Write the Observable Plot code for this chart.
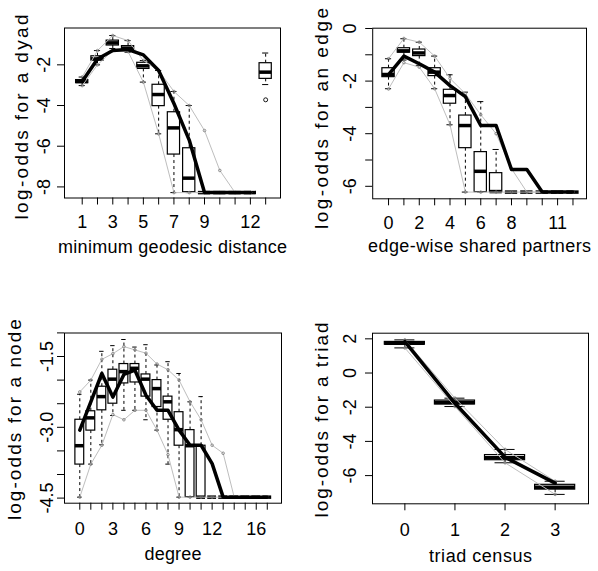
<!DOCTYPE html>
<html><head><meta charset="utf-8">
<script src="https://cdn.jsdelivr.net/npm/d3@7"></script>
<script src="https://cdn.jsdelivr.net/npm/@observablehq/plot@0.6"></script>
<style>
html,body{margin:0;padding:0;background:#fff;}
#wrap{position:relative;width:598px;height:571px;overflow:hidden;background:#fff;}
#wrap > div{position:absolute;}
</style></head><body><div id="wrap"></div>
<script>
// ---------- Panel 1: minimum geodesic distance ----------
const geoCats = [1,2,3,4,5,6,7,8,9,10,11,12,13];
const geoMin = [-3.02,-2.0,-1.2,-1.38,-2.85,-5.39,-8.28,-8.28,-8.28,-8.28,-8.28,-8.28,-2.97];
const geoQ1  = [-2.9,-1.79,-1.05,-1.3,-2.2,-4.03,-6.41,-8.26,-8.28,-8.28,-8.28,-8.28,-2.69];
const geoMed = [-2.82,-1.71,-0.92,-1.18,-2.05,-3.46,-5.1,-7.57,-8.28,-8.28,-8.28,-8.28,-2.36];
const geoQ3  = [-2.75,-1.58,-0.81,-1.08,-1.9,-2.98,-4.33,-6.1,-8.28,-8.28,-8.28,-8.28,-1.92];
const geoMax = [-2.6,-1.3,-0.56,-0.81,-1.79,-2.28,-3.31,-4.0,-8.28,-8.28,-8.28,-8.28,-1.42];
const geoOutCats = [13];
const geoOutVals = [-3.72];
const geoLineCats = [1,2,3,4,5,6,7,8,9,10,11,12];
const geoObs = [-2.82,-1.71,-1.3,-1.25,-1.51,-2.28,-3.9,-5.7,-8.28,-8.28,-8.28,-8.28];
const geoHi  = [-2.6,-1.3,-0.56,-0.81,-1.79,-2.28,-3.31,-4.0,-5.23,-7.19,-8.28,-8.28];
const geoLo  = [-3.02,-2.0,-1.3,-1.35,-2.85,-5.39,-8.28,-8.28,-8.28,-8.28,-8.28,-8.28];
const geoXLabelCats = [1,3,5,7,9,12];
const geoYTicks = [-2,-4,-6,-8];
const geoYLabelVals = [-2,-4,-6,-8];
const geoYLabels = ["-2","-4","-6","-8"];

// ---------- Panel 2: edge-wise shared partners ----------
const espCats = [0,1,2,3,4,5,6,7,8,9,10,11,12];
const espMin = [-2.29,-1.2,-1.4,-2.29,-3.66,-6.22,-6.22,-6.22,-6.22,-6.22,-6.22,-6.22,-6.22];
const espQ1  = [-1.85,-0.92,-1.05,-1.81,-2.86,-4.55,-6.22,-6.22,-6.22,-6.22,-6.22,-6.22,-6.22];
const espMed = [-1.75,-0.85,-0.93,-1.66,-2.55,-3.69,-5.43,-6.2,-6.22,-6.22,-6.22,-6.22,-6.22];
const espQ3  = [-1.51,-0.75,-0.8,-1.51,-2.33,-3.31,-4.7,-5.5,-6.22,-6.22,-6.22,-6.22,-6.22];
const espMax = [-1.15,-0.39,-0.52,-1.05,-1.76,-2.42,-2.78,-4.6,-6.22,-6.22,-6.22,-6.22,-6.22];
const espObs = [-1.75,-1.05,-1.34,-1.66,-2.17,-2.59,-3.69,-3.69,-5.36,-5.36,-6.22,-6.22,-6.22];
const espHi  = [-1.15,-0.38,-0.52,-1.05,-1.9,-2.48,-3.28,-4.0,-5.33,-6.22,-6.22,-6.22,-6.22];
const espLo  = [-2.3,-1.3,-1.47,-2.29,-3.66,-6.22,-6.22,-6.22,-6.22,-6.22,-6.22,-6.22,-6.22];
const espXLabelCats = [0,2,4,6,8,11];
const espYTicks = [0,-1,-2,-3,-4,-5,-6];
const espYLabelVals = [0,-2,-4,-6];
const espYLabels = ["0","-2","-4","-6"];

// ---------- Panel 3: degree ----------
const degCats = [0,1,2,3,4,5,6,7,8,9,10,11,12,13,14,15,16,17];
const degMin = [-4.48,-3.78,-3.37,-2.75,-2.64,-2.64,-2.84,-3.06,-3.78,-4.48,-4.48,-4.48,-4.48,-4.48,-4.48,-4.48,-4.48,-4.48];
const degQ1  = [-3.79,-3.07,-2.64,-2.5,-2.07,-2.05,-2.35,-2.57,-2.84,-3.39,-4.48,-4.48,-4.48,-4.48,-4.48,-4.48,-4.48,-4.48];
const degMed = [-3.39,-2.8,-2.35,-1.98,-1.82,-1.75,-1.98,-2.18,-2.46,-3.05,-3.39,-4.48,-4.48,-4.48,-4.48,-4.48,-4.48,-4.48];
const degQ3  = [-2.84,-2.66,-2.14,-1.78,-1.66,-1.66,-1.88,-2.0,-2.35,-2.68,-3.06,-3.39,-4.48,-4.48,-4.48,-4.48,-4.48,-4.48];
const degMax = [-2.3,-2.0,-1.39,-1.27,-1.14,-1.3,-1.25,-1.68,-1.61,-1.86,-2.46,-2.35,-4.48,-4.48,-4.48,-4.48,-4.48,-4.48];
const degObs = [-3.06,-2.46,-1.86,-2.36,-1.88,-1.79,-2.32,-2.64,-2.64,-3.06,-3.38,-3.38,-3.77,-4.48,-4.48,-4.48,-4.48,-4.48];
const degHi  = [-2.25,-2.0,-1.56,-1.44,-1.29,-1.36,-1.43,-1.66,-1.78,-2.0,-2.46,-2.84,-3.38,-3.55,-4.48,-4.48,-4.48,-4.48];
const degLo  = [-4.48,-3.78,-3.38,-2.73,-2.84,-2.64,-2.64,-3.06,-3.58,-4.48,-4.48,-4.48,-4.48,-4.48,-4.48,-4.48,-4.48,-4.48];
const degXLabelCats = [0,3,6,9,12,16];
const degYTicks = [-1,-1.5,-2,-2.5,-3,-3.5,-4,-4.5];
const degYLabelVals = [-1.5,-3,-4.5];
const degYLabels = ["-1.5","-3.0","-4.5"];

// ---------- Panel 4: triad census ----------
const triCats = [0,1,2,3];
const triMin = [1.47,-1.96,-5.25,-7.1];
const triQ1  = [1.66,-1.84,-5.1,-6.82];
const triMed = [1.74,-1.72,-4.95,-6.68];
const triQ3  = [1.82,-1.61,-4.8,-6.54];
const triMax = [1.94,-1.47,-4.47,-6.33];
const triObs = [1.84,-1.77,-4.92,-6.44];
const triHi  = [1.94,-1.47,-4.47,-6.33];
const triLo  = [1.47,-1.96,-5.25,-7.1];
const triXLabelCats = [0,1,2,3];
const triYTicks = [2,0,-2,-4,-6];
const triYLabelVals = [2,0,-2,-4,-6];
const triYLabels = ["2","0","-2","-4","-6"];

const FONT = "'Liberation Sans', Arial, Helvetica, sans-serif";

function panel(cfg) {
  const boxes = cfg.cats.map((c, i) => ({c, lo: cfg.min[i], q1: cfg.q1[i], med: cfg.med[i], q3: cfg.q3[i], hi: cfg.max[i]}));
  const obs = cfg.lineCats.map((c, i) => ({c, v: cfg.obs[i]}));
  const up = cfg.lineCats.map((c, i) => ({c, v: cfg.hiLine[i]}));
  const low = cfg.lineCats.map((c, i) => ({c, v: cfg.loLine[i]}));
  const outs = (cfg.outCats || []).map((c, i) => ({c, v: cfg.outVals[i]}));
  const hw = 0.4, sw = 0.2;
  const yLab = new Map(cfg.yLabelVals.map((t, i) => [t, cfg.yLabels[i]]));
  const xLab = new Set(cfg.xLabelCats);
  const svg = Plot.plot({
    width: 299, height: 286,
    marginLeft: cfg.m[0], marginRight: cfg.m[1], marginTop: cfg.m[2], marginBottom: cfg.m[3],
    x: {type: "linear", domain: cfg.xDomain},
    y: {type: "linear", domain: cfg.yDomain},
    style: {fontFamily: FONT, fontSize: "18px", color: "black", background: "white"},
    marks: [
      Plot.ruleX(boxes, {x: "c", y1: "q3", y2: "hi", stroke: "black", strokeWidth: 1, strokeDasharray: "3,3"}),
      Plot.ruleX(boxes, {x: "c", y1: "q1", y2: "lo", stroke: "black", strokeWidth: 1, strokeDasharray: "3,3"}),
      Plot.ruleY(boxes, {y: "hi", x1: d => d.c - sw, x2: d => d.c + sw, stroke: "black", strokeWidth: 1}),
      Plot.ruleY(boxes, {y: "lo", x1: d => d.c - sw, x2: d => d.c + sw, stroke: "black", strokeWidth: 1}),
      Plot.rect(boxes, {x1: d => d.c - hw, x2: d => d.c + hw, y1: "q1", y2: "q3", fill: "white", stroke: "black", strokeWidth: 1.2}),
      Plot.ruleY(boxes, {y: "med", x1: d => d.c - hw, x2: d => d.c + hw, stroke: "black", strokeWidth: 3.5}),
      Plot.dot(outs, {x: "c", y: "v", r: 2, stroke: "black", strokeWidth: 0.9}),
      Plot.line(up, {x: "c", y: "v", stroke: "#bebebe", strokeWidth: 1}),
      Plot.line(low, {x: "c", y: "v", stroke: "#bebebe", strokeWidth: 1}),
      Plot.dot(up, {x: "c", y: "v", r: 1.3, stroke: "#777", strokeWidth: 0.8}),
      Plot.dot(low, {x: "c", y: "v", r: 1.3, stroke: "#777", strokeWidth: 0.8}),
      Plot.line(obs, {x: "c", y: "v", stroke: "black", strokeWidth: 3.5, strokeLinejoin: "round"}),
      Plot.frame({stroke: "black", strokeWidth: 1}),
      Plot.axisX({ticks: cfg.cats, tickSize: 7, tickPadding: cfg.xPad, label: null,
                  tickFormat: d => xLab.has(d) ? String(d) : ""}),
      Plot.axisY({ticks: cfg.yTicks, tickSize: 7, tickPadding: cfg.yPad, tickRotate: -90, label: null,
                  tickFormat: d => yLab.has(d) ? yLab.get(d) : ""}),
      Plot.text([cfg.ylabel], {frameAnchor: "left", text: d => d, rotate: -90, dx: cfg.yTitle[0], dy: cfg.yTitle[1],
                  textAnchor: "middle", lineAnchor: "bottom", fontSize: 19, ariaLabel: () => "ytitle"}),
      Plot.text([cfg.xlabel], {frameAnchor: "bottom", text: d => d, dy: cfg.xTitleDy,
                  textAnchor: "middle", lineAnchor: "bottom", fontSize: 18, ariaLabel: () => "xtitle"})
    ]
  });
  d3.select(svg).selectAll('text[aria-label="ytitle"], g[aria-label="ytitle"] text')
    .attr("textLength", cfg.yTitleLen).attr("lengthAdjust", "spacing");
  d3.select(svg).selectAll('text[aria-label="xtitle"], g[aria-label="xtitle"] text')
    .attr("textLength", cfg.xTitleLen).attr("lengthAdjust", "spacing");
  const div = document.createElement("div");
  div.style.left = cfg.pos[0] + "px";
  div.style.top = cfg.pos[1] + "px";
  div.appendChild(svg);
  document.getElementById("wrap").appendChild(div);
}

panel({
  pos: [0, 0], m: [64, 19, 27.5, 88.5],
  xDomain: [-0.158, 13.97], yDomain: [-8.545, -0.19],
  cats: geoCats, min: geoMin, q1: geoQ1, med: geoMed, q3: geoQ3, max: geoMax,
  outCats: geoOutCats, outVals: geoOutVals,
  lineCats: geoLineCats, obs: geoObs, hiLine: geoHi, loLine: geoLo,
  xLabelCats: geoXLabelCats, yTicks: geoYTicks, yLabelVals: geoYLabelVals, yLabels: geoYLabels,
  xPad: 10, yPad: 7.5, ylabel: "log-odds for a dyad", xlabel: "minimum geodesic distance",
  yTitle: [-37, 4], xTitleDy: 54.5, yTitleLen: 205, xTitleLen: 229
});
panel({
  pos: [299, 0], m: [73.2, 12, 27.7, 87.7],
  xDomain: [-1.03, 12.88], yDomain: [-6.475, 0.011],
  cats: espCats, min: espMin, q1: espQ1, med: espMed, q3: espQ3, max: espMax,
  lineCats: espCats, obs: espObs, hiLine: espHi, loLine: espLo,
  xLabelCats: espXLabelCats, yTicks: espYTicks, yLabelVals: espYLabelVals, yLabels: espYLabels,
  xPad: 10, yPad: 10, ylabel: "log-odds for an edge", xlabel: "edge-wise shared partners",
  yTitle: [-45.2, 5], xTitleDy: 53.5, yTitleLen: 221, xTitleLen: 223
});
panel({
  pos: [0, 285], m: [64, 18, 47.5, 68.3],
  xDomain: [-1.387, 18.29], yDomain: [-4.608, -1.002],
  cats: degCats, min: degMin, q1: degQ1, med: degMed, q3: degQ3, max: degMax,
  lineCats: degCats, obs: degObs, hiLine: degHi, loLine: degLo,
  xLabelCats: degXLabelCats, yTicks: degYTicks, yLabelVals: degYLabelVals, yLabels: degYLabels,
  xPad: 12.5, yPad: 5, ylabel: "log-odds for a node", xlabel: "degree",
  yTitle: [-43.5, 1.5], xTitleDy: 57, yTitleLen: 201, xTitleLen: 57
});
panel({
  pos: [299, 285], m: [73, 10, 47.7, 67.7],
  xDomain: [-0.646, 3.666], yDomain: [-7.65, 2.33],
  cats: triCats, min: triMin, q1: triQ1, med: triMed, q3: triQ3, max: triMax,
  lineCats: triCats, obs: triObs, hiLine: triHi, loLine: triLo,
  xLabelCats: triXLabelCats, yTicks: triYTicks, yLabelVals: triYLabelVals, yLabels: triYLabels,
  xPad: 12.5, yPad: 10, ylabel: "log-odds for a triad", xlabel: "triad census",
  yTitle: [-45, 1.5], xTitleDy: 58, yTitleLen: 195, xTitleLen: 103
});
</script></body></html>
